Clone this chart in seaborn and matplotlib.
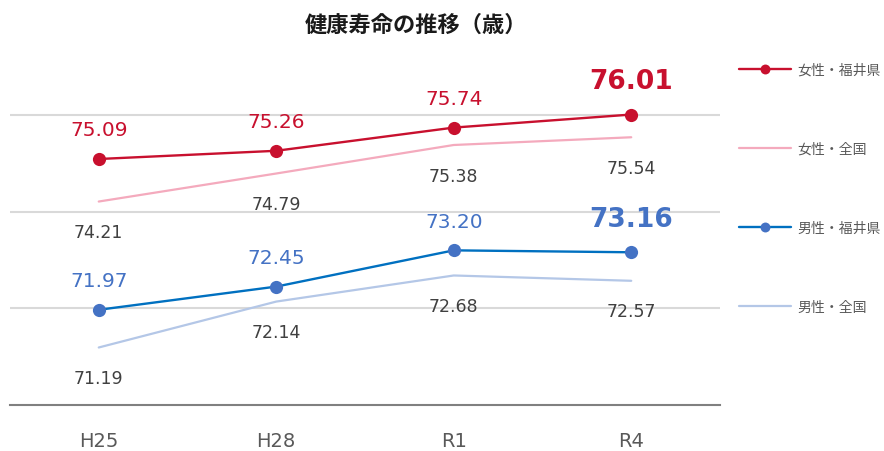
import numpy as np
import pandas as pd
import matplotlib
matplotlib.use("Agg")
import matplotlib.pyplot as plt
import seaborn as sns

# データ
periods = ["H25", "H28", "R1", "R4"]
female_fukui = [75.09, 75.26, 75.74, 76.01]
female_japan = [74.21, 74.79, 75.38, 75.54]
male_fukui = [71.97, 72.45, 73.20, 73.16]
male_japan = [71.19, 72.14, 72.68, 72.57]
series_names = ["女性・福井県", "女性・全国", "男性・福井県", "男性・全国"]

sns.set_theme(style="white")
plt.rcParams['font.family'] = ['DejaVu Sans', 'Noto Sans CJK JP']
CJK = ['Noto Sans CJK JP', 'DejaVu Sans']

fig = plt.figure(figsize=(8.84, 4.52), dpi=100)
ax = fig.add_axes([10 / 884, 46 / 452, 710 / 884, (406 - 67.7) / 452])

RED = "#C8102E"
PINK = "#F4AABD"
BLUE_LINE = "#0070C0"
BLUE_MK = "#4472C4"
LBLUE = "#B4C7E7"
GRAY_TXT = "#404040"

sns.lineplot(x=periods, y=female_japan, ax=ax, color=PINK, linewidth=1.6,
             label=series_names[1], sort=False)
sns.lineplot(x=periods, y=male_japan, ax=ax, color=LBLUE, linewidth=1.6,
             label=series_names[3], sort=False)
sns.lineplot(x=periods, y=female_fukui, ax=ax, color=RED, linewidth=1.7,
             marker="o", markersize=9.5, markeredgewidth=0,
             label=series_names[0], sort=False)
sns.lineplot(x=periods, y=male_fukui, ax=ax, color=BLUE_LINE, linewidth=1.7,
             marker="o", markersize=9.5, markeredgewidth=0,
             markerfacecolor=BLUE_MK, label=series_names[2], sort=False)

ax.set_xlim(-0.5, 3.5)
ax.set_ylim(70, 77)
ax.set_yticks([72, 74, 76])
ax.set_yticklabels([])
ax.tick_params(axis="y", length=0)
ax.tick_params(axis="x", length=0, pad=19, labelsize=14, labelcolor="#595959")
ax.grid(axis="y", color="#D9D9D9", linewidth=1.5)
ax.grid(axis="x", visible=False)
for s in ["top", "left", "right"]:
    ax.spines[s].set_visible(False)
ax.spines["bottom"].set_color("#808080")
ax.spines["bottom"].set_linewidth(1.5)
ax.set_xlabel("")
ax.set_ylabel("")

# 値ラベル
last = len(periods) - 1
for i in range(len(periods)):
    big = i == last
    ax.annotate(f"{female_fukui[i]:.2f}", (i, female_fukui[i]), xytext=(0, 24 if big else 21),
                textcoords="offset points", ha="center", va="center",
                fontsize=19 if big else 14.5, fontweight="bold" if big else "normal", color=RED)
    ax.annotate(f"{male_fukui[i]:.2f}", (i, male_fukui[i]), xytext=(0, 24 if big else 21),
                textcoords="offset points", ha="center", va="center",
                fontsize=19 if big else 14.5, fontweight="bold" if big else "normal", color=BLUE_MK)
    ax.annotate(f"{female_japan[i]:.2f}", (i, female_japan[i]), xytext=(0, -22),
                textcoords="offset points", ha="center", va="center",
                fontsize=12.5, color=GRAY_TXT)
    ax.annotate(f"{male_japan[i]:.2f}", (i, male_japan[i]), xytext=(0, -22),
                textcoords="offset points", ha="center", va="center",
                fontsize=12.5, color=GRAY_TXT)

# 凡例
handles, labels = ax.get_legend_handles_labels()
order = [labels.index(n) for n in series_names]
ax.legend([handles[k] for k in order], [labels[k] for k in order],
          loc="upper left", bbox_to_anchor=(726 / 884, 1 - 51 / 452),
          bbox_transform=fig.transFigure, frameon=False,
          prop={"family": CJK, "size": 10}, labelcolor="#595959",
          handlelength=3.75, handletextpad=0.5, labelspacing=4.7, markerscale=0.75)

fig.text(416 / 884, 1 - 25 / 452, "健康寿命の推移（歳）", ha="center", va="center",
         fontsize=16, fontweight="bold", family=CJK, color="#1A1A1A")

fig.savefig("out.png", dpi=100, facecolor="white")
